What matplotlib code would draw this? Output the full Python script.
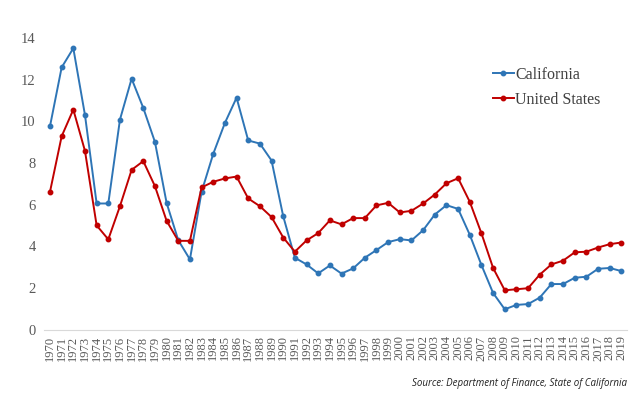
import matplotlib
matplotlib.use("Agg")
import matplotlib.pyplot as plt

years = list(range(1970, 2020))

california = [
    9.76, 12.58, 13.5, 10.3, 6.06, 6.06, 10.08, 12.04, 10.64, 9.01,
    6.09, 4.3, 3.38, 6.62, 8.44, 9.92, 11.13, 9.08, 8.93, 8.12,
    5.45, 3.46, 3.14, 2.71, 3.09, 2.7, 2.95, 3.46, 3.83, 4.21,
    4.35, 4.29, 4.78, 5.53, 5.98, 5.8, 4.56, 3.11, 1.77, 0.99,
    1.2, 1.24, 1.55, 2.2, 2.2, 2.5, 2.55, 2.93, 2.97, 2.82,
]

united_states = [
    6.62, 9.28, 10.56, 8.58, 5.01, 4.34, 5.93, 7.67, 8.09, 6.89,
    5.23, 4.27, 4.27, 6.83, 7.1, 7.26, 7.35, 6.3, 5.93, 5.41,
    4.43, 3.75, 4.29, 4.64, 5.25, 5.06, 5.36, 5.36, 5.97, 6.09,
    5.63, 5.71, 6.06, 6.49, 7.03, 7.27, 6.14, 4.63, 2.97, 1.9,
    1.95, 2.0, 2.65, 3.14, 3.32, 3.72, 3.75, 3.95, 4.11, 4.19,
]

y_ticks = [0, 2, 4, 6, 8, 10, 12, 14]

BLUE = "#2E75B6"
RED = "#C00000"
SERIF = ["Liberation Serif", "DejaVu Serif"]

fig = plt.figure(figsize=(6.4, 3.98), dpi=100)
ax = fig.add_axes([0.069, 0.171, 0.911, 0.734])

ax.plot(years, california, color=BLUE, linewidth=1.4, marker="o", markersize=3.2,
        label="California", clip_on=False)
ax.plot(years, united_states, color=RED, linewidth=1.4, marker="o", markersize=3.2,
        label="United States", clip_on=False)

ax.set_xlim(1969.5, 2019.5)
ax.set_ylim(0, 14)
ax.set_yticks(y_ticks)
ax.set_yticklabels([str(v) for v in y_ticks], family=SERIF, fontsize=10.5, color="#595959")
ax.set_xticks(years)
ax.set_xticklabels([str(y) for y in years], rotation=90, family=SERIF, fontsize=9,
                   color="#595959")
ax.tick_params(axis="both", length=0, pad=6)
ax.tick_params(axis="x", pad=4)

for side in ("top", "right", "left"):
    ax.spines[side].set_visible(False)
ax.spines["bottom"].set_color("#D9D9D9")
ax.spines["bottom"].set_linewidth(0.8)

ax.legend(loc="upper left", bbox_to_anchor=(0.745, 0.95), frameon=False,
          prop={"family": SERIF, "size": 11.5}, handlelength=1.3, handletextpad=0.1,
          labelspacing=0.55, labelcolor="#404040")

fig.text(0.98, 0.022, "Source: Department of Finance, State of California", ha="right",
         va="bottom", style="italic", family="Open Sans", fontsize=7, color="#202020")

fig.savefig("out.png", dpi=100)
